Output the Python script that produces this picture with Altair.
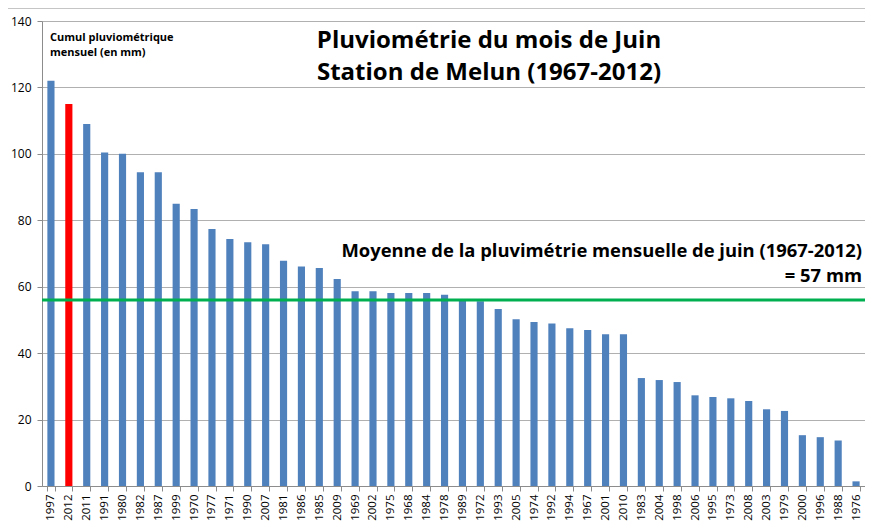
import altair as alt
import pandas as pd

years = ["1997", "2012", "2011", "1991", "1980", "1982", "1987", "1999", "1970", "1977",
         "1971", "1990", "2007", "1981", "1986", "1985", "2009", "1969", "2002", "1975",
         "1968", "1984", "1978", "1989", "1972", "1993", "2005", "1974", "1992", "1994",
         "1967", "2001", "2010", "1983", "2004", "1998", "2006", "1995", "1973", "2008",
         "2003", "1979", "2000", "1996", "1988", "1976"]
values = [122.0, 115.0, 109.0, 100.4, 100.0, 94.5, 94.5, 85.0, 83.4, 77.4,
          74.4, 73.4, 72.8, 67.8, 66.1, 65.6, 62.3, 58.6, 58.6, 58.1,
          58.1, 58.1, 57.6, 56.2, 55.6, 53.3, 50.2, 49.4, 48.9, 47.5,
          47.0, 45.7, 45.7, 32.5, 31.9, 31.3, 27.3, 26.8, 26.4, 25.6,
          23.1, 22.6, 15.3, 14.7, 13.7, 1.4]
highlight_year = "2012"
mean_value = 56
y_ticks = [0, 20, 40, 60, 80, 100, 120, 140]

title_lines = ["Pluviométrie du mois de Juin", "Station de Melun (1967-2012)"]
unit_lines = ["Cumul pluviométrique", "mensuel (en mm)"]
mean_lines = ["Moyenne de la pluvimétrie mensuelle de juin (1967-2012)", "= 57 mm"]

df = pd.DataFrame({"year": years, "mm": values})
df["hl"] = df["year"] == highlight_year

FONT = "Open Sans"
W, H = 823, 465

x = alt.X("year:N", sort=None, title=None,
          scale=alt.Scale(paddingInner=0.6, paddingOuter=0.3, range=[0, 823]),
          axis=alt.Axis(labelAngle=270, labelFontSize=11.5, labelColor="#000000",
                        labelFont=FONT, tickBand="extent", tickSize=5,
                        tickColor="#8c8c8c", domainColor="#8c8c8c", labelPadding=3,
                        grid=False))
y = alt.Y("mm:Q", title=None,
          scale=alt.Scale(domain=[0, 140], nice=False),
          axis=alt.Axis(values=y_ticks, labelFontSize=12, labelColor="#000000",
                        labelFont=FONT, tickSize=5, tickColor="#8c8c8c",
                        domainColor="#8c8c8c", gridColor="#b0b0b0", labelPadding=6))

bars = alt.Chart(df).mark_bar().encode(
    x=x, y=y,
    color=alt.condition("datum.hl", alt.value("#ff0000"), alt.value("#4f81bd")),
)

one = alt.Data(values=[{}])

mean_rule = alt.Chart(one).mark_rule(color="#00b050", strokeWidth=3).encode(
    y=alt.datum(mean_value, type="quantitative", scale=alt.Scale(domain=[0, 140], nice=False)),
    x=alt.value(0), x2=alt.value(W + 10))

title_txt = alt.Chart(one).mark_text(
    font=FONT, fontWeight="bold", fontSize=24, align="center", baseline="alphabetic",
    lineHeight=32, color="#000000"
).encode(x=alt.value(447), y=alt.value(27), text=alt.value(title_lines))

unit_txt = alt.Chart(one).mark_text(
    font=FONT, fontWeight="bold", fontSize=11, align="left", baseline="middle",
    lineHeight=15, color="#000000"
).encode(x=alt.value(8), y=alt.value(17), text=alt.value(unit_lines))

mean_txt = alt.Chart(one).mark_text(
    font=FONT, fontWeight="bold", fontSize=18.4, align="right", baseline="alphabetic",
    lineHeight=25, color="#000000"
).encode(x=alt.value(820), y=alt.value(236), text=alt.value(mean_lines))

border_left = alt.Chart(one).mark_rule(color="#8c8c8c", strokeWidth=1).encode(
    x=alt.value(-35), y=alt.value(-13), y2=alt.value(H + 60))
border_top = alt.Chart(one).mark_rule(color="#8c8c8c", strokeWidth=1).encode(
    y=alt.value(-13), x=alt.value(-35), x2=alt.value(W + 10))

chart = alt.layer(
    border_left, border_top, bars, mean_rule, title_txt, unit_txt, mean_txt
).properties(
    width=W, height=H,
    padding={"left": 34, "top": 13, "right": 0, "bottom": 35},
    autosize=alt.AutoSizeParams(type="none"),
).configure_view(stroke=None).configure(background="#ffffff")

chart.save("out.html", embed_options={"renderer": "svg", "actions": False})
